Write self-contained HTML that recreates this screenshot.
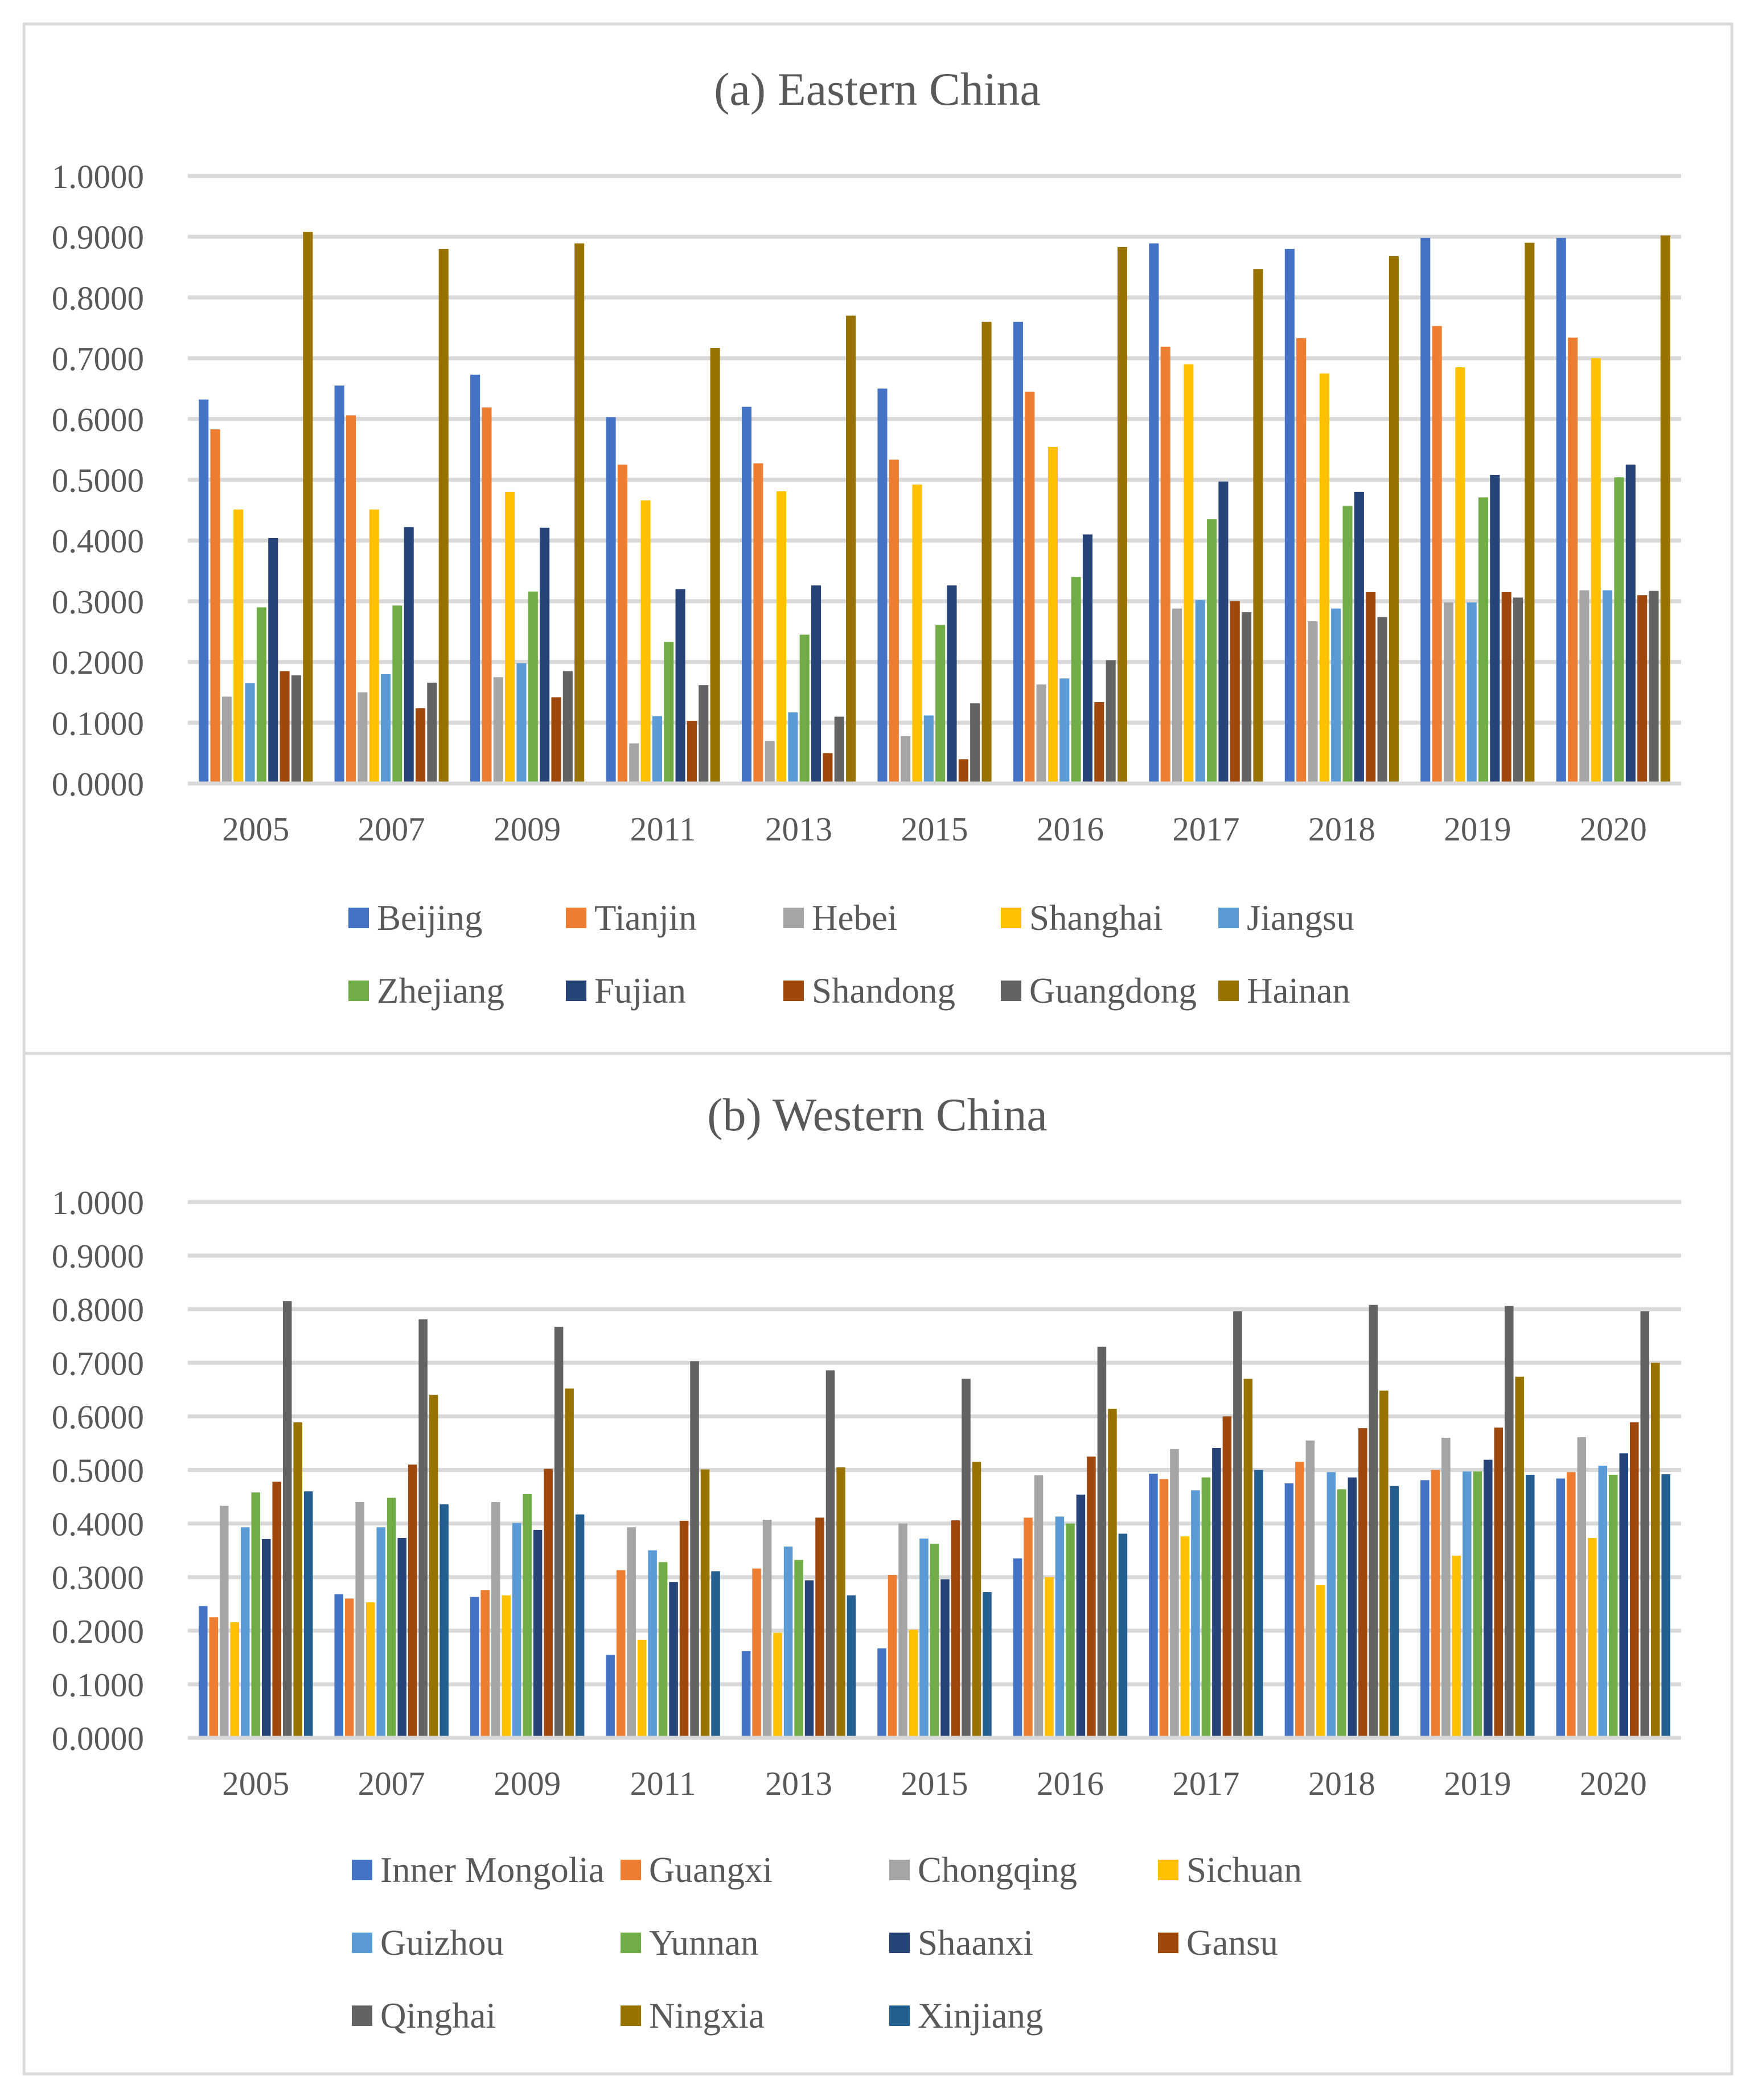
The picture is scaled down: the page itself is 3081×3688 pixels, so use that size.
<!DOCTYPE html>
<html><head><meta charset="utf-8">
<style>
html,body{margin:0;padding:0;background:#fff;}
svg{display:block;}
text{font-family:"Liberation Serif",serif;fill:#595959;}
</style></head>
<body>
<svg id="svg" width="3081" height="3688" viewBox="0 0 3081 3688" xmlns="http://www.w3.org/2000/svg">
<rect x="0" y="0" width="3081" height="3688" fill="#fff"/>
<rect x="42" y="42" width="3000" height="1808" fill="none" stroke="#d9d9d9" stroke-width="5"/>
<rect x="42" y="1850" width="3000" height="1792" fill="none" stroke="#d9d9d9" stroke-width="5"/>
<g id="ga"></g>
<g id="gb"></g>
</svg>
<script>
const years = ["2005","2007","2009","2011","2013","2015","2016","2017","2018","2019","2020"];
const yTicks = [0,0.1,0.2,0.3,0.4,0.5,0.6,0.7,0.8,0.9,1.0];
const eastNames = ["Beijing","Tianjin","Hebei","Shanghai","Jiangsu","Zhejiang","Fujian","Shandong","Guangdong","Hainan"];
const beijing   = [.632,.655,.673,.603,.620,.650,.760,.889,.880,.898,.898];
const tianjin   = [.583,.606,.619,.525,.527,.533,.645,.719,.733,.753,.734];
const hebei     = [.143,.150,.175,.066,.070,.078,.163,.288,.267,.298,.318];
const shanghai  = [.451,.451,.480,.466,.481,.492,.554,.690,.675,.685,.700];
const jiangsu   = [.165,.180,.198,.111,.117,.112,.173,.302,.288,.298,.318];
const zhejiang  = [.290,.293,.316,.233,.245,.261,.340,.435,.457,.471,.504];
const fujian    = [.404,.422,.421,.320,.326,.326,.410,.497,.480,.508,.525];
const shandong  = [.185,.124,.142,.103,.050,.040,.134,.300,.315,.315,.310];
const guangdong = [.178,.166,.185,.162,.110,.132,.203,.282,.274,.306,.317];
const hainan    = [.908,.880,.889,.717,.770,.760,.883,.847,.868,.890,.902];
const westNames = ["Inner Mongolia","Guangxi","Chongqing","Sichuan","Guizhou","Yunnan","Shaanxi","Gansu","Qinghai","Ningxia","Xinjiang"];
const innerMongolia = [.246,.268,.263,.155,.162,.167,.335,.493,.475,.481,.484];
const guangxi   = [.225,.260,.276,.313,.316,.304,.411,.483,.515,.500,.496];
const chongqing = [.433,.440,.440,.393,.407,.400,.490,.539,.555,.560,.561];
const sichuan   = [.216,.253,.266,.183,.196,.202,.300,.376,.285,.340,.373];
const guizhou   = [.393,.393,.401,.350,.357,.372,.413,.462,.496,.497,.508];
const yunnan    = [.458,.448,.455,.328,.332,.362,.400,.486,.464,.497,.491];
const shaanxi   = [.371,.373,.388,.291,.294,.296,.454,.541,.486,.519,.531];
const gansu     = [.478,.510,.502,.405,.411,.406,.525,.600,.578,.579,.589];
const qinghai   = [.815,.781,.767,.703,.686,.670,.730,.796,.808,.806,.796];
const ningxia   = [.589,.640,.652,.501,.505,.515,.614,.670,.648,.674,.700];
const xinjiang  = [.460,.436,.417,.311,.266,.272,.381,.500,.470,.491,.492];
const eastSeries = [beijing,tianjin,hebei,shanghai,jiangsu,zhejiang,fujian,shandong,guangdong,hainan];
const westSeries = [innerMongolia,guangxi,chongqing,sichuan,guizhou,yunnan,shaanxi,gansu,qinghai,ningxia,xinjiang];
const colors = ["#4472C4","#ED7D31","#A5A5A5","#FFC000","#5B9BD5","#70AD47","#264478","#9E480E","#636363","#997300","#255E91"];

const NS="http://www.w3.org/2000/svg";
function mk(parent,tag,attrs,txt){const e=document.createElementNS(NS,tag);for(const k in attrs)e.setAttribute(k,attrs[k]);if(txt!==undefined)e.textContent=txt;parent.appendChild(e);return e;}

function drawChart(g,cfg){
  const x0=330,x1=2953,y0=cfg.y0,y1=cfg.y1;
  const yScale=v=>y0-(y0-y1)*v;
  const gw=(x1-x0)/years.length;
  const t=mk(g,"text",{x:1541,y:cfg.titleY,"text-anchor":"middle","font-size":82},cfg.title);
  
  
  yTicks.forEach(v=>{
    const y=yScale(v);
    const l=mk(g,"line",{x1:x0,x2:x1,y1:y,y2:y,stroke:"#d9d9d9","stroke-width":7});
    
    
    const tl=mk(g,"text",{x:253,y:y+21,"text-anchor":"end","font-size":59},v.toFixed(4));
    
    
  });
  const n=cfg.series.length, span=gw*0.853, slot=span/n, bw=slot*0.84;
  years.forEach((yr,i)=>{
    const gx=x0+i*gw+(gw-span)/2;
    cfg.series.forEach((s,j)=>{
      const v=s[i];
      const r=mk(g,"rect",{x:gx+j*slot+(slot-bw)/2,y:yScale(v),width:bw,height:yScale(0)-yScale(v)-3.5,fill:colors[j]});
      
      
    });
    const xl=mk(g,"text",{x:x0+(i+0.5)*gw,y:y0+100,"text-anchor":"middle","font-size":59},yr);
    
    
  });
  cfg.names.forEach((nm,k)=>{
    const col=k%cfg.cols,row=Math.floor(k/cfg.cols);
    const lx=cfg.legX+col*cfg.legDX, ly=cfg.legY+row*cfg.legDY;
    const lg=mk(g,"g",{});
    
    
    mk(lg,"rect",{x:lx,y:ly-18,width:36,height:36,fill:colors[k]});
    mk(lg,"text",{x:lx+50,y:ly+21,"font-size":63},nm);
  });
}
drawChart(document.getElementById('ga'),{title:"(a) Eastern China",titleY:184,y0:1376,y1:309,series:eastSeries,names:eastNames,cols:5,legX:612,legDX:382,legY:1612,legDY:128});
drawChart(document.getElementById('gb'),{title:"(b) Western China",titleY:1985,y0:3052,y1:2111,series:westSeries,names:westNames,cols:4,legX:618,legDX:472,legY:3284,legDY:128});
</script>
</body></html>
